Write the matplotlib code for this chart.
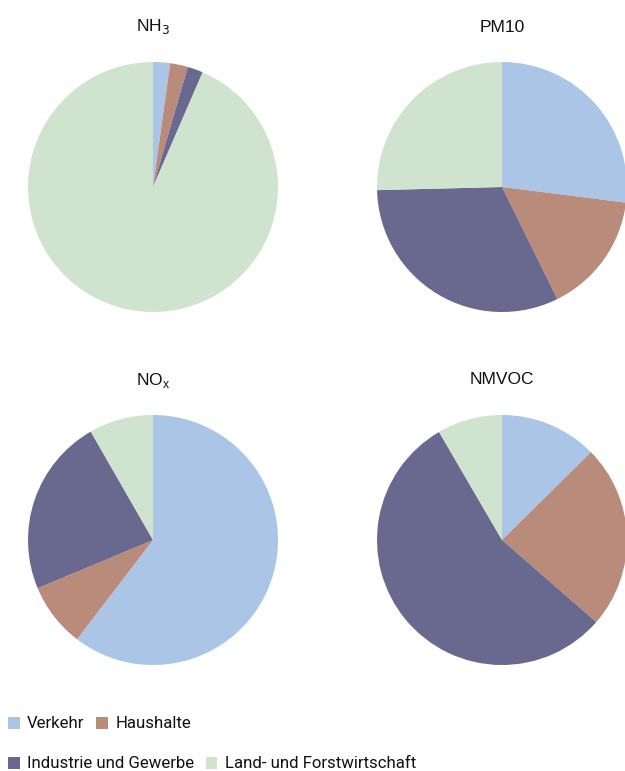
import matplotlib
matplotlib.use("Agg")
import matplotlib.pyplot as plt
from matplotlib.patches import Patch

categories = ["Verkehr", "Haushalte", "Industrie und Gewerbe", "Land- und Forstwirtschaft"]
colors = ["#abc5e7", "#b98b7b", "#69688f", "#cfe3cf"]

titles = ["NH$_3$", "PM10", "NO$_\\mathregular{x}$", "NMVOC"]
nh3 = [2.2, 2.3, 2.0, 93.5]
pm10 = [27.0, 15.7, 31.9, 25.4]
nox = [60.4, 8.3, 23.0, 8.3]
nmvoc = [12.6, 23.8, 55.2, 8.4]
values = [nh3, pm10, nox, nmvoc]

W, H = 625, 771
fig = plt.figure(figsize=(W / 100, H / 100), dpi=100)

# pie centres in pixels, radius 125
centres = [(153, 187), (502, 187), (153, 540), (502, 540)]
r = 125

for (cx, cy), t, v in zip(centres, titles, values):
    ax = fig.add_axes([(cx - r) / W, 1 - (cy + r) / H, 2 * r / W, 2 * r / H])
    ax.pie(v, colors=colors, startangle=90, counterclock=False,
           wedgeprops=dict(linewidth=0))
    ax.set_aspect("equal")
    ax.set_xlim(-1, 1)
    ax.set_ylim(-1, 1)
    fig.text(cx / W, 1 - (cy - 160) / H, t, ha="center", va="center",
             fontsize=12.5, family="Liberation Sans", color="#111111")

rows = [(724, categories[:2], colors[:2]), (764, categories[2:], colors[2:])]
for y, labs, cols in rows:
    handles = [Patch(facecolor=c, edgecolor="none") for c in cols]
    fig.legend(handles, labs, loc="center left", bbox_to_anchor=(5 / W, 1 - y / H),
               ncol=2, frameon=False, handlelength=0.67, handleheight=0.72,
               handletextpad=0.45, columnspacing=0.7, borderaxespad=0,
               borderpad=0.2, labelcolor="#111111",
               prop=dict(family="Roboto", size=12.1))

fig.savefig("out.png", dpi=100)
